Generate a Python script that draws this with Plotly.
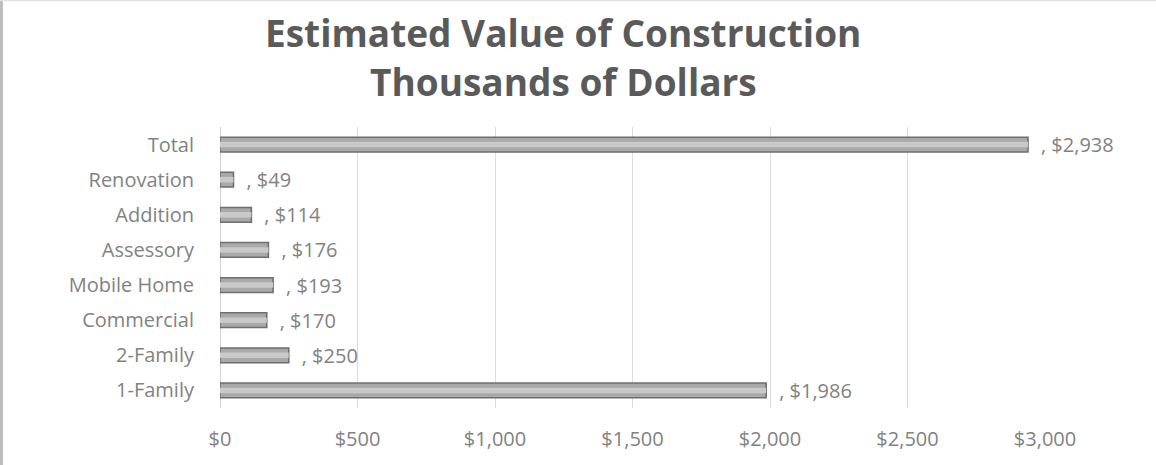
import plotly.graph_objects as go

categories = ["1-Family", "2-Family", "Commercial", "Mobile Home", "Assessory", "Addition", "Renovation", "Total"]
values = [1986, 250, 170, 193, 176, 114, 49, 2938]
x_tick_vals = [0, 500, 1000, 1500, 2000, 2500, 3000]
x_tick_text = ["$0", "$500", "$1,000", "$1,500", "$2,000", "$2,500", "$3,000"]
title_line1 = "Estimated Value of Construction"
title_line2 = "Thousands of Dollars"
labels = ["\u2002, ${:,}".format(v) for v in values]

W, H = 1156, 465
L, R, T, B = 220, 111, 127, 57
pw, ph = W - L - R, H - T - B
FONT = "Open Sans"
GREY = "#828282"

fig = go.Figure()
fig.add_trace(go.Bar(
    y=categories, x=values, orientation="h",
    width=0.42,
    marker=dict(color="#a9a9a9", line=dict(color="#6e6e6e", width=1.6)),
    text=labels, textposition="outside", cliponaxis=False,
    constraintext="none",
    textfont=dict(family=FONT, size=20, color=GREY),
    hoverinfo="skip",
))
# lighter highlight stripe inside each bar (3D look)
fig.add_trace(go.Bar(
    y=categories, x=values, orientation="h",
    width=0.16,
    marker=dict(color="#c9c9c9", line=dict(width=0)),
    hoverinfo="skip",
))

fig.update_layout(
    width=W, height=H,
    margin=dict(l=L, r=R, t=T, b=B),
    paper_bgcolor="white", plot_bgcolor="white",
    showlegend=False, barmode="overlay",
    xaxis=dict(
        range=[0, 3000], tickvals=x_tick_vals, ticktext=x_tick_text,
        showgrid=True, gridcolor="#dcdcdc", gridwidth=1,
        zeroline=True, zerolinecolor="#d0d0d0", zerolinewidth=1,
        showline=False, ticks="",
        tickfont=dict(family=FONT, size=20, color=GREY),
        ticklabelstandoff=17,
        fixedrange=True,
    ),
    yaxis=dict(
        categoryorder="array", categoryarray=categories,
        range=[-0.5, 7.5], showgrid=False, showline=False, ticks="",
        tickfont=dict(family=FONT, size=20, color=GREY),
        ticklabelstandoff=25,
        fixedrange=True,
    ),
    annotations=[
        dict(text="<b>" + title_line1 + "</b>", xref="paper", yref="paper",
             x=(563 - L) / pw, y=(H - B - 32) / ph, xanchor="center", yanchor="middle",
             showarrow=False, font=dict(family=FONT, size=37, color="#5a5a5a")),
        dict(text="<b>" + title_line2 + "</b>", xref="paper", yref="paper",
             x=(563 - L) / pw, y=(H - B - 82) / ph, xanchor="center", yanchor="middle",
             showarrow=False, font=dict(family=FONT, size=37, color="#5a5a5a")),
    ],
    shapes=[
        dict(type="line", xref="paper", yref="paper",
             x0=-(L - 1.5) / pw, x1=-(L - 1.5) / pw,
             y0=-(B) / ph, y1=(ph + T) / ph,
             line=dict(color="#bdbdbd", width=3)),
        dict(type="line", xref="paper", yref="paper",
             x0=-L / pw, x1=(pw + R) / pw,
             y0=(ph + T - 0.5) / ph, y1=(ph + T - 0.5) / ph,
             line=dict(color="#e3e3e3", width=1.5)),
    ],
)

fig.write_html("out.html", config={"displayModeBar": False},
               post_script="document.body.style.margin='0';")
